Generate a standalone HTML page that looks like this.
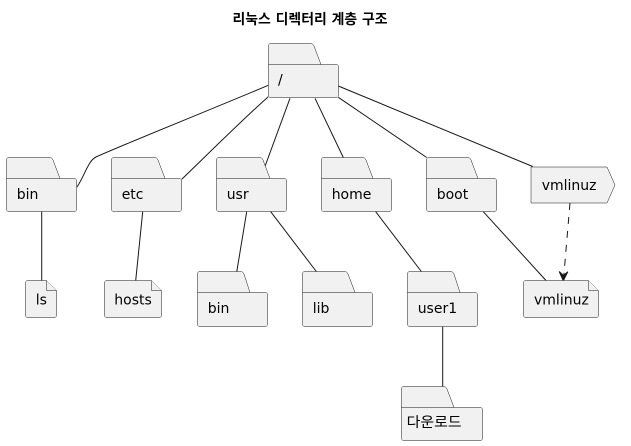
<!DOCTYPE html>
<html><head><meta charset="utf-8">
<style>
html,body{margin:0;padding:0;background:#fff;}
svg{display:block;}
text{font-family:"DejaVu Sans","Liberation Sans","Noto Sans CJK KR",sans-serif;font-size:14px;fill:#000;}
.t{font-family:"DejaVu Sans","Liberation Sans","Noto Sans CJK KR",sans-serif;font-weight:bold;font-size:14px;}
.s{fill:#F1F1F1;stroke:#181818;stroke-width:0.5;}
.e{fill:none;stroke:#181818;stroke-width:1;}
</style></head>
<body>
<svg width="631" height="446" viewBox="0 0 631 446" xmlns="http://www.w3.org/2000/svg">
<text class="t" x="310" y="24" text-anchor="middle" textLength="155" lengthAdjust="spacingAndGlyphs">리눅스 디렉터리 계층 구조</text>

<!-- edges -->
<path class="e" d="M268.3,85.3 C200,114 120,146 96,157 C88,161 85,175 77,187"/>
<path class="e" d="M268.3,96.7 C240,122 210,152 181.7,179.3"/>
<path class="e" d="M290,98.3 L263.3,171"/>
<path class="e" d="M315,98.3 L343.3,157.5"/>
<path class="e" d="M338.3,97.3 L426.7,157.5"/>
<path class="e" d="M338.3,86 L532.7,166.5"/>
<path class="e" d="M41.7,211.7 L41.7,280.5"/>
<path class="e" d="M142.7,211.7 L135.7,280.5"/>
<path class="e" d="M246.7,211.7 L236.7,272"/>
<path class="e" d="M270.7,211.7 L316.7,272"/>
<path class="e" d="M375.7,211.7 L421.7,272"/>
<path class="e" d="M483.3,211.7 L546,280.5"/>
<path class="e" d="M442.7,326.7 L442.7,387"/>
<path class="e" d="M570,203 L563.6,278" stroke-dasharray="7,7"/>
<polygon points="563.3,280.8 559.2,271.5 563.5,275.5 567.8,271.8" fill="#181818" stroke="#181818" stroke-width="1"/>

<!-- folders -->
<!-- root -->
<path class="s" d="M271,43.5 L310.5,43.5 Q313,43.5 314,46 L321,64.5 L336,64.5 Q338.5,64.5 338.5,67 L338.5,95 Q338.5,97.5 336,97.5 L271,97.5 Q268.5,97.5 268.5,95 L268.5,46 Q268.5,43.5 271,43.5 Z"/>
<path class="s" d="M268.5,64.5 L321,64.5"/>
<text x="278" y="84.5">/</text>

<!-- bin -->
<path class="s" d="M9,157.5 L49.5,157.5 Q52,157.5 53,160 L60,178.5 L74,178.5 Q76.5,178.5 76.5,181 L76.5,209 Q76.5,211.5 74,211.5 L9,211.5 Q6.5,211.5 6.5,209 L6.5,160 Q6.5,157.5 9,157.5 Z"/>
<path class="s" d="M6.5,178.5 L60,178.5"/>
<text x="16.7" y="199">bin</text>

<!-- etc -->
<path class="s" d="M114,157.5 L154.5,157.5 Q157,157.5 158,160 L165,178.5 L179,178.5 Q181.5,178.5 181.5,181 L181.5,209 Q181.5,211.5 179,211.5 L114,211.5 Q111.5,211.5 111.5,209 L111.5,160 Q111.5,157.5 114,157.5 Z"/>
<path class="s" d="M111.5,178.5 L165,178.5"/>
<text x="121.7" y="199">etc</text>

<!-- usr -->
<path class="s" d="M219,157.5 L259.5,157.5 Q262,157.5 263,160 L270,178.5 L284,178.5 Q286.5,178.5 286.5,181 L286.5,209 Q286.5,211.5 284,211.5 L219,211.5 Q216.5,211.5 216.5,209 L216.5,160 Q216.5,157.5 219,157.5 Z"/>
<path class="s" d="M216.5,178.5 L270,178.5"/>
<text x="226.7" y="199">usr</text>

<!-- home -->
<path class="s" d="M324,157.5 L362.5,157.5 Q365,157.5 366,160 L373,178.5 L389,178.5 Q391.5,178.5 391.5,181 L391.5,209 Q391.5,211.5 389,211.5 L324,211.5 Q321.5,211.5 321.5,209 L321.5,160 Q321.5,157.5 324,157.5 Z"/>
<path class="s" d="M321.5,178.5 L373,178.5"/>
<text x="331.7" y="199">home</text>

<!-- boot -->
<path class="s" d="M429,157.5 L467.5,157.5 Q470,157.5 471,160 L478,178.5 L494,178.5 Q496.5,178.5 496.5,181 L496.5,209 Q496.5,211.5 494,211.5 L429,211.5 Q426.5,211.5 426.5,209 L426.5,160 Q426.5,157.5 429,157.5 Z"/>
<path class="s" d="M426.5,178.5 L478,178.5"/>
<text x="436.7" y="199">boot</text>

<!-- vmlinuz pentagon -->
<path class="s" d="M531,167 L607,167 L615,185 L607,203 L531,203 Z"/>
<text x="541.7" y="190">vmlinuz</text>

<!-- usr/bin -->
<path class="s" d="M200,271.5 L240.5,271.5 Q243,271.5 244,274 L250,292.5 L265,292.5 Q267.5,292.5 267.5,295 L267.5,324 Q267.5,326.5 265,326.5 L200,326.5 Q197.5,326.5 197.5,324 L197.5,274 Q197.5,271.5 200,271.5 Z"/>
<path class="s" d="M197.5,292.5 L250,292.5"/>
<text x="207.7" y="313">bin</text>

<!-- lib -->
<path class="s" d="M305,271.5 L344.5,271.5 Q347,271.5 348,274 L355,292.5 L370,292.5 Q372.5,292.5 372.5,295 L372.5,324 Q372.5,326.5 370,326.5 L305,326.5 Q302.5,326.5 302.5,324 L302.5,274 Q302.5,271.5 305,271.5 Z"/>
<path class="s" d="M302.5,292.5 L355,292.5"/>
<text x="312.7" y="313">lib</text>

<!-- user1 -->
<path class="s" d="M410,271.5 L450.5,271.5 Q453,271.5 454,274 L460,292.5 L475,292.5 Q477.5,292.5 477.5,295 L477.5,324 Q477.5,326.5 475,326.5 L410,326.5 Q407.5,326.5 407.5,324 L407.5,274 Q407.5,271.5 410,271.5 Z"/>
<path class="s" d="M407.5,292.5 L460,292.5"/>
<text x="417.7" y="313">user1</text>

<!-- 다운로드 -->
<path class="s" d="M404,386.5 L443.5,386.5 Q446,386.5 447,389 L454,407.5 L480,407.5 Q482.5,407.5 482.5,410 L482.5,438 Q482.5,440.5 480,440.5 L404,440.5 Q401.5,440.5 401.5,438 L401.5,389 Q401.5,386.5 404,386.5 Z"/>
<path class="s" d="M401.5,407.5 L454,407.5"/>
<text x="406.7" y="427" textLength="55" lengthAdjust="spacingAndGlyphs">다운로드</text>

<!-- files -->
<path class="s" d="M28,280.5 L46.5,280.5 L56.5,290.5 L56.5,315 Q56.5,317.5 54,317.5 L28,317.5 Q25.5,317.5 25.5,315 L25.5,283 Q25.5,280.5 28,280.5 Z"/>
<path class="s" d="M46.5,280.5 L46.5,290.5 L56.5,290.5"/>
<text x="35.7" y="304.3">ls</text>

<path class="s" d="M107,280.5 L151.5,280.5 L161.5,290.5 L161.5,315 Q161.5,317.5 159,317.5 L107,317.5 Q104.5,317.5 104.5,315 L104.5,283 Q104.5,280.5 107,280.5 Z"/>
<path class="s" d="M151.5,280.5 L151.5,290.5 L161.5,290.5"/>
<text x="114.3" y="304.3">hosts</text>

<path class="s" d="M526,280.5 L588.5,280.5 L598.5,290.5 L598.5,315 Q598.5,317.5 596,317.5 L526,317.5 Q523.5,317.5 523.5,315 L523.5,283 Q523.5,280.5 526,280.5 Z"/>
<path class="s" d="M588.5,280.5 L588.5,290.5 L598.5,290.5"/>
<text x="534" y="304.3">vmlinuz</text>
</svg>
</body></html>
